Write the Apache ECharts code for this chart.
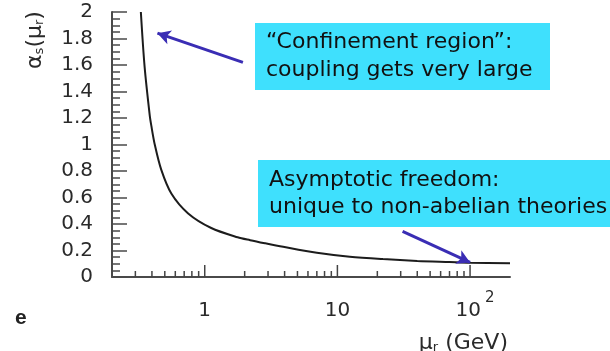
<!DOCTYPE html>
<html>
<head>
<meta charset="utf-8">
<script src="https://cdn.jsdelivr.net/npm/echarts@6/dist/echarts.min.js"></script>
<style>
    html, body { margin: 0; padding: 0; background: #fff; }
    #chart { width: 610px; height: 351px; }
</style>
</head>
<body>
<div id="chart"></div>
<script>
//////////////////////////////
//          数据
//////////////////////////////
// μ (GeV) 与 αs(μ) 读数
var muValues = [0.33, 0.352, 0.385, 0.396, 0.42, 0.47, 0.56, 0.75, 1.12, 1.77, 2.2, 2.84, 3.9, 7.0, 12.4, 22, 40, 70, 100, 200];
var alphaValues = [2.0, 1.59, 1.22, 1.14, 1.0, 0.81, 0.63, 0.48, 0.37, 0.30, 0.278, 0.255, 0.228, 0.183, 0.153, 0.135, 0.121, 0.113, 0.108, 0.104];

// x 轴刻度
var majorTicks = [1, 10, 100];
var minorTicks = [0.3, 0.4, 0.5, 0.6, 0.7, 0.8, 0.9, 2, 3, 4, 5, 6, 7, 8, 9, 20, 30, 40, 50, 60, 70, 80, 90];

// 箭头 [起点, 终点]
var arrowConfinement = [[1.94, 1.62], [0.44, 1.84]];
var arrowFreedom = [[31, 0.345], [100, 0.11]];

var curveData = [];
for (var i = 0; i < muValues.length; i++) {
    curveData.push([muValues[i], alphaValues[i]]);
}

function tickData(list) {
    var out = [];
    for (var i = 0; i < list.length; i++) {
        out.push([list[i], 0]);
    }
    return out;
}

// 画 x 轴向上的刻度线
function tickRenderer(len) {
    return function(params, api) {
        var p = api.coord([api.value(0), api.value(1)]);
        return {
            type: 'line',
            shape: { x1: p[0], y1: p[1], x2: p[0], y2: p[1] - len },
            style: { stroke: '#444', lineWidth: 1.5 }
        };
    };
}

var axisColor = '#4a4a4a';
var labelFont = 'DejaVu Sans';
var noteFont = 'DejaVu Sans';
var textColor = '#2a2a2a';

var myChart = echarts.init(document.getElementById('chart'));

var option = {
    backgroundColor: '#fff',
    animation: false,
    grid: {
        left: 112,
        right: 100,
        top: 12,
        bottom: 74
    },
    xAxis: {
        type: 'log',
        logBase: 10,
        min: 0.2,
        max: 200,
        splitLine: { show: false },
        axisTick: { show: false },
        axisLine: {
            show: true,
            lineStyle: { color: axisColor, width: 2 }
        },
        axisLabel: {
            showMinLabel: false,
            showMaxLabel: false,
            margin: 14,
            color: textColor,
            fontFamily: labelFont,
            fontSize: 20,
            formatter: function(v) {
                if (Math.abs(v - 100) < 1e-6) {
                    return '{c|10}{s|2}';
                }
                if (Math.abs(v - 10) < 1e-6 || Math.abs(v - 1) < 1e-6) {
                    return '{b|' + Math.round(v) + '}';
                }
                return '';
            },
            rich: {
                b: { fontFamily: labelFont, fontSize: 20, color: textColor, lineHeight: 30, verticalAlign: 'bottom' },
                c: { fontFamily: labelFont, fontSize: 20, color: textColor, lineHeight: 30, verticalAlign: 'bottom', padding: [0, 0, 0, 10] },
                s: { fontFamily: labelFont, fontSize: 15, color: textColor, lineHeight: 30, verticalAlign: 'top', padding: [0, 0, 0, 4] }
            }
        }
    },
    yAxis: {
        type: 'value',
        min: 0,
        max: 2,
        interval: 0.2,
        splitLine: { show: false },
        axisLine: {
            show: true,
            lineStyle: { color: axisColor, width: 2 }
        },
        axisTick: {
            show: true,
            inside: true,
            length: 15,
            lineStyle: { color: axisColor, width: 1.5 }
        },
        minorTick: {
            show: true,
            splitNumber: 4,
            length: 8,
            lineStyle: { color: axisColor, width: 1.5 }
        },
        axisLabel: {
            margin: 19,
            color: textColor,
            fontFamily: labelFont,
            fontSize: 20,
            formatter: function(v) {
                return String(Math.round(v * 10) / 10);
            }
        }
    },
    series: [{
        name: 'alpha',
        type: 'line',
        smooth: 0.3,
        showSymbol: false,
        data: curveData,
        lineStyle: { color: '#1c1c1c', width: 2 },
        markLine: {
            silent: true,
            symbol: ['none', 'arrow'],
            symbolSize: [11, 13],
            label: { show: false },
            lineStyle: { color: '#3a2db4', width: 3, type: 'solid' },
            data: [
                [{ coord: arrowConfinement[0] }, { coord: arrowConfinement[1] }],
                [{ coord: arrowFreedom[0] }, { coord: arrowFreedom[1] }]
            ]
        }
    }, {
        name: 'majorTick',
        type: 'custom',
        renderItem: tickRenderer(12),
        data: tickData(majorTicks),
        silent: true
    }, {
        name: 'minorTick',
        type: 'custom',
        renderItem: tickRenderer(6),
        data: tickData(minorTicks),
        silent: true
    }],
    graphic: [
        // y 轴名称
        {
            type: 'text',
            x: 32,
            y: 40,
            rotation: Math.PI / 2,
            style: {
                text: '{a|α}{s|s}{a|(μ}{s|r}{a|)}',
                align: 'center',
                verticalAlign: 'middle',
                rich: {
                    a: { fontFamily: labelFont, fontSize: 22, fill: textColor, lineHeight: 28, verticalAlign: 'bottom' },
                    s: { fontFamily: labelFont, fontSize: 13, fill: textColor, lineHeight: 18, verticalAlign: 'bottom' }
                }
            }
        },
        // x 轴名称
        {
            type: 'text',
            x: 508,
            y: 340,
            style: {
                text: '{a|μ}{s|r}{a| (GeV)}',
                align: 'right',
                verticalAlign: 'middle',
                rich: {
                    a: { fontFamily: labelFont, fontSize: 22, fill: textColor, lineHeight: 28, verticalAlign: 'bottom' },
                    s: { fontFamily: labelFont, fontSize: 13, fill: textColor, lineHeight: 18, verticalAlign: 'bottom' }
                }
            }
        },
        // 左下角残字
        {
            type: 'text',
            x: 15,
            y: 318,
            style: {
                text: 'e',
                fontFamily: 'Liberation Sans',
                fontWeight: 'bold',
                fontSize: 21,
                fill: '#222',
                verticalAlign: 'middle'
            }
        },
        // 注释框 1
        {
            type: 'rect',
            shape: { x: 255, y: 23, width: 295, height: 67 },
            style: { fill: '#3fe0fd' }
        },
        {
            type: 'text',
            x: 266,
            y: 56,
            style: {
                text: '“Confinement region”:\ncoupling gets very large',
                fontFamily: noteFont,
                fontSize: 22,
                lineHeight: 28,
                fill: '#111',
                verticalAlign: 'middle'
            }
        },
        // 注释框 2
        {
            type: 'rect',
            shape: { x: 258, y: 160, width: 360, height: 67 },
            style: { fill: '#3fe0fd' }
        },
        {
            type: 'text',
            x: 269,
            y: 194,
            style: {
                text: 'Asymptotic freedom:\nunique to non-abelian theories',
                fontFamily: noteFont,
                fontSize: 22,
                lineHeight: 27,
                fill: '#111',
                verticalAlign: 'middle'
            }
        }
    ]
};

myChart.setOption(option);
</script>
</body>
</html>
